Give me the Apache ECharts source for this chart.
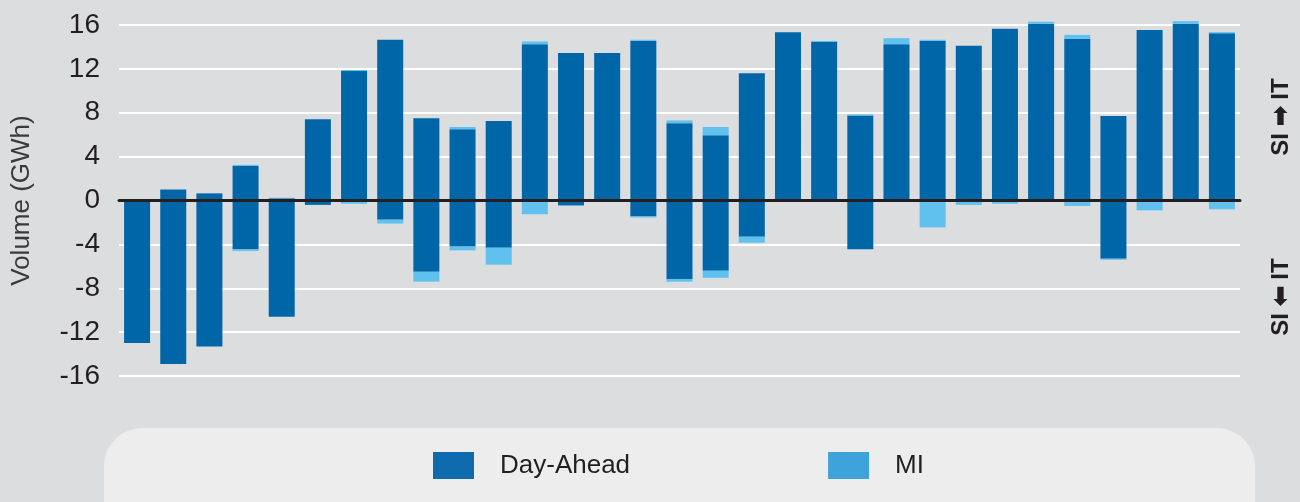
<!doctype html>
<html>
<head>
    <meta charset="utf-8">
    <title>SI - IT volumes</title>
    <script src="https://cdn.jsdelivr.net/npm/echarts@6/dist/echarts.min.js"></script>
</head>
<style>
    html, body {
        margin: 0;
        padding: 0;
        background: #dcdddf;
    }
    #chart {
        width: 1300px;
        height: 502px;
    }
</style>
<body>
<div id="chart"></div>
<script>
  // days of the month
  var days = [];
  for (var d = 1; d <= 31; d++) days.push(String(d));

  // Day-Ahead volumes, split into SI->IT (positive) and IT->SI (negative) part
  var daExport = [0, 1.0, 0.65, 3.15, 0.2, 7.4, 11.8, 14.65, 7.5, 6.5, 7.25, 14.25, 13.45, 13.45, 14.55, 7.05,
    5.95, 11.6, 15.35, 14.45, 7.75, 14.25, 14.55, 14.1, 15.65, 16.1, 14.75, 7.7, 15.55, 16.1, 15.25];
  var daImport = [-13.0, -14.9, -13.3, -4.45, -10.6, -0.4, 0, -1.75, -6.5, -4.2, -4.3, 0, -0.45, 0, -1.45, -7.15,
    -6.4, -3.3, 0, 0, -4.45, 0, 0, 0, 0, 0, 0, -5.3, 0, 0, 0];

  // MI (intraday) volumes
  var miExport = [0, 0, 0, 0.1, 0.05, 0, 0.1, 0, 0, 0.2, 0, 0.25, 0, 0, 0.1, 0.25,
    0.75, 0, 0, 0.1, 0.1, 0.55, 0.1, 0, 0, 0.2, 0.35, 0, 0, 0.25, 0.1];
  var miImport = [0, 0, 0, -0.15, 0, 0, -0.3, -0.35, -0.9, -0.35, -1.55, -1.25, 0, 0, -0.1, -0.25,
    -0.65, -0.55, 0, 0, 0, 0, -2.45, -0.4, -0.3, 0, -0.5, -0.1, -0.9, 0, -0.8];

  var yTicks = { min: -16, max: 16, step: 4 };

  var DA_COLOR = '#0066a8';
  var MI_COLOR = '#60c1ee';
  var FONT = '"Liberation Sans", Arial, sans-serif';

  var myChart = echarts.init(document.getElementById('chart'));

  function barSeries(name, values, color) {
    return {
      name: name,
      type: 'bar',
      stack: 'total',
      barWidth: 26,
      clip: false,
      itemStyle: { color: color },
      data: values
    };
  }

  var option = {
    backgroundColor: '#dcdddf',
    animation: false,
    textStyle: { fontFamily: FONT },
    grid: {
      left: 119,
      right: 60,
      top: 25,
      bottom: 126
    },
    legend: {
      left: 428,
      top: 447,
      z: 10,
      itemWidth: 41,
      itemHeight: 27,
      itemGap: 198,
      icon: 'rect',
      textStyle: {
        fontSize: 26,
        color: '#231f20',
        fontFamily: FONT,
        padding: [0, 0, 0, 21]
      },
      data: [
        { name: 'Day-Ahead', itemStyle: { color: '#0e6bae' } },
        { name: 'MI', itemStyle: { color: '#3ea3db' } }
      ]
    },
    graphic: [
      {
        type: 'rect',
        z: 0,
        shape: { x: 104, y: 428, width: 1151, height: 110, r: 38 },
        style: { fill: '#ededed' }
      },
      {
        type: 'text',
        x: 1281,
        y: 117,
        rotation: Math.PI / 2,
        style: {
          text: 'SI \u27A1 IT',
          font: 'bold 24px ' + FONT,
          fill: '#231f20',
          align: 'center',
          verticalAlign: 'middle'
        }
      },
      {
        type: 'text',
        x: 1281,
        y: 297,
        rotation: Math.PI / 2,
        style: {
          text: 'SI \u2B05 IT',
          font: 'bold 24px ' + FONT,
          fill: '#231f20',
          align: 'center',
          verticalAlign: 'middle'
        }
      }
    ],
    xAxis: {
      type: 'category',
      data: days,
      z: 10,
      axisLine: {
        onZero: true,
        lineStyle: { color: '#231f20', width: 3 }
      },
      axisTick: { show: false },
      axisLabel: { show: false },
      splitLine: { show: false }
    },
    yAxis: {
      type: 'value',
      min: yTicks.min,
      max: yTicks.max,
      interval: yTicks.step,
      name: 'Volume (GWh)',
      nameLocation: 'middle',
      nameGap: 84,
      nameTextStyle: {
        fontSize: 26,
        color: '#3a3a3a',
        fontFamily: FONT
      },
      axisLine: { show: false },
      axisTick: { show: false },
      axisLabel: {
        fontSize: 28,
        color: '#231f20',
        margin: 19,
        fontFamily: FONT
      },
      splitLine: {
        lineStyle: { color: '#ffffff', width: 2 }
      }
    },
    series: [
      barSeries('Day-Ahead', daExport, DA_COLOR),
      barSeries('Day-Ahead', daImport, DA_COLOR),
      barSeries('MI', miExport, MI_COLOR),
      barSeries('MI', miImport, MI_COLOR)
    ]
  };

  myChart.setOption(option);
</script>
</body>
</html>
